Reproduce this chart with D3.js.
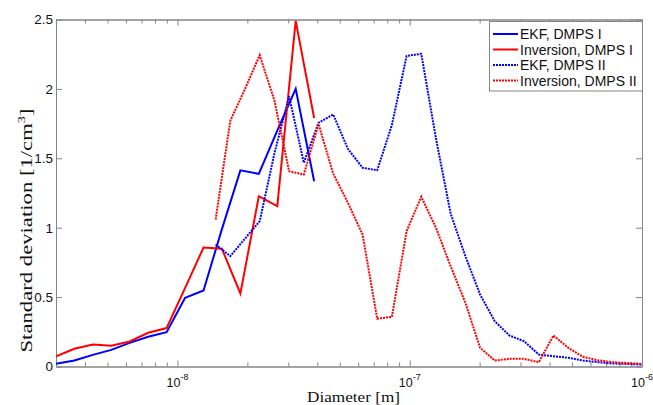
<!DOCTYPE html>
<html>
<head>
<meta charset="utf-8">
<script src="https://cdn.jsdelivr.net/npm/d3@7"></script>
<style>
  html, body { margin: 0; padding: 0; background: #fff; }
  svg { display: block; }
</style>
</head>
<body>
<svg id="chart" width="653" height="405"></svg>
<script>
// ---- Data ----
const dmps1Diameter = [3.0e-9, 3.60e-9, 4.32e-9, 5.19e-9, 6.23e-9, 7.48e-9, 8.98e-9, 1.079e-8, 1.295e-8, 1.554e-8, 1.866e-8, 2.240e-8, 2.690e-8, 3.229e-8, 3.877e-8];
const ekfDmps1 = [0.019, 0.043, 0.084, 0.12, 0.17, 0.214, 0.247, 0.495, 0.548, 0.99, 1.413, 1.388, 1.70, 2.0, 1.335];
const invDmps1 = [0.074, 0.128, 0.158, 0.149, 0.18, 0.243, 0.277, 0.566, 0.857, 0.848, 0.526, 1.227, 1.155, 2.49, 1.79];

const dmps2Diameter = [1.460e-8, 1.689e-8, 1.954e-8, 2.260e-8, 2.615e-8, 3.025e-8, 3.499e-8, 4.048e-8, 4.682e-8, 5.416e-8, 6.265e-8, 7.244e-8, 8.380e-8, 9.694e-8, 1.121e-7, 1.297e-7, 1.500e-7, 1.736e-7, 2.008e-7, 2.323e-7, 2.687e-7, 3.108e-7, 3.595e-7, 4.159e-7, 4.811e-7, 5.565e-7, 6.437e-7, 7.446e-7, 8.613e-7, 9.963e-7];
const ekfDmps2 = [0.879, 0.795, 0.922, 1.047, 1.535, 1.947, 1.468, 1.756, 1.816, 1.568, 1.432, 1.414, 1.74, 2.237, 2.253, 1.643, 1.102, 0.795, 0.519, 0.326, 0.223, 0.182, 0.086, 0.074, 0.063, 0.043, 0.031, 0.022, 0.018, 0.014];
const invDmps2 = [1.059, 1.772, 2.0, 2.243, 1.916, 1.407, 1.383, 1.747, 1.39, 1.18, 0.951, 0.344, 0.358, 0.975, 1.223, 0.999, 0.723, 0.459, 0.135, 0.043, 0.055, 0.055, 0.031, 0.223, 0.135, 0.07, 0.045, 0.031, 0.025, 0.019];

const seriesNames = ["EKF, DMPS I", "Inversion, DMPS I", "EKF, DMPS II", "Inversion, DMPS II"];
const xDomain = [3e-9, 1e-6];
const xMajorTicks = [1e-8, 1e-7, 1e-6];
const xMajorExponents = ["-8", "-7", "-6"];
const yTicks = [0, 0.5, 1, 1.5, 2, 2.5];
const yTickLabels = ["0", "0.5", "1", "1.5", "2", "2.5"];

// ---- Layout ----
const L = 56, R = 642, T = 19.5, B = 366.5;
const axisColor = "#858585";
const textColor = "#111";
const svg = d3.select("#chart");

const x = d3.scaleLog().domain(xDomain).range([L, R]);
const y = d3.scaleLinear().domain([0, 2.5]).range([B, T]);

const allXTicks = x.ticks().filter(v => v >= xDomain[0] && v <= xDomain[1]);
const minorXTicks = allXTicks.filter(v => !xMajorTicks.some(m => Math.abs(m - v) / m < 1e-6));

function styleAxis(g) {
  g.selectAll("path.domain").attr("stroke", axisColor).attr("stroke-width", 1);
  g.selectAll(".tick line").attr("stroke", axisColor).attr("stroke-width", 1);
}

// Bottom axis
svg.append("g").attr("transform", `translate(0,${B})`)
  .call(d3.axisBottom(x).tickValues(minorXTicks).tickSizeInner(-4).tickSizeOuter(0).tickFormat(""))
  .call(styleAxis);
svg.append("g").attr("transform", `translate(0,${B})`)
  .call(d3.axisBottom(x).tickValues(xMajorTicks).tickSizeInner(-6).tickSizeOuter(0).tickFormat(""))
  .call(styleAxis);
// Top axis
svg.append("g").attr("transform", `translate(0,${T})`)
  .call(d3.axisTop(x).tickValues(minorXTicks).tickSizeInner(-4).tickSizeOuter(0).tickFormat(""))
  .call(styleAxis);
svg.append("g").attr("transform", `translate(0,${T})`)
  .call(d3.axisTop(x).tickValues(xMajorTicks).tickSizeInner(-6).tickSizeOuter(0).tickFormat(""))
  .call(styleAxis);
// Left axis
const leftAxis = svg.append("g").attr("transform", `translate(${L},0)`)
  .call(d3.axisLeft(y).tickValues(yTicks).tickSizeInner(-6).tickSizeOuter(0).tickPadding(3)
        .tickFormat((d, i) => yTickLabels[i]))
  .call(styleAxis);
leftAxis.selectAll("text")
  .attr("font-family", "'Liberation Sans', Arial, sans-serif")
  .attr("font-size", "13.5px").attr("fill", textColor);
// Right axis
svg.append("g").attr("transform", `translate(${R},0)`)
  .call(d3.axisRight(y).tickValues(yTicks).tickSizeInner(-6).tickSizeOuter(0).tickFormat(""))
  .call(styleAxis);

// X major tick labels: 10^n
xMajorTicks.forEach((v, i) => {
  const t = svg.append("text")
    .attr("x", x(v)).attr("y", 387)
    .attr("text-anchor", "middle")
    .attr("font-family", "'Liberation Sans', Arial, sans-serif")
    .attr("font-size", "12.5px").attr("fill", textColor);
  t.append("tspan").text("10");
  t.append("tspan").attr("dy", -7).attr("font-size", "9px").text(xMajorExponents[i]);
});

// Axis titles
svg.append("text")
  .attr("x", 353.5).attr("y", 402)
  .attr("text-anchor", "middle")
  .attr("font-family", "'Liberation Serif', 'Times New Roman', serif")
  .attr("font-size", "15px").attr("fill", textColor)
  .attr("textLength", 93).attr("lengthAdjust", "spacingAndGlyphs")
  .text("Diameter [m]");

const yl = svg.append("text")
  .attr("transform", "translate(32,230.5) rotate(-90)")
  .attr("text-anchor", "middle")
  .attr("font-family", "'Liberation Serif', 'Times New Roman', serif")
  .attr("font-size", "17.5px").attr("fill", textColor)
  .attr("textLength", 244).attr("lengthAdjust", "spacingAndGlyphs");
yl.append("tspan").text("Standard deviation [1/cm");
yl.append("tspan").attr("dy", -7).attr("font-size", "11px").text("3");
yl.append("tspan").attr("dy", 7).text("]");

// ---- Lines ----
svg.append("clipPath").attr("id", "plotclip")
  .append("rect").attr("x", L).attr("y", T - 2).attr("width", R - L).attr("height", B - T + 2);

const line = d3.line().x(d => x(d[0])).y(d => y(d[1]));
const series = [
  { name: seriesNames[0], xs: dmps1Diameter, ys: ekfDmps1, color: "#0000ff", dash: null },
  { name: seriesNames[1], xs: dmps1Diameter, ys: invDmps1, color: "#ff0000", dash: null },
  { name: seriesNames[2], xs: dmps2Diameter, ys: ekfDmps2, color: "#0000ff", dash: "2,1" },
  { name: seriesNames[3], xs: dmps2Diameter, ys: invDmps2, color: "#ff0000", dash: "2,1" }
];

const plot = svg.append("g").attr("clip-path", "url(#plotclip)");
series.forEach(s => {
  plot.append("path")
    .datum(s.xs.map((d, i) => [d, s.ys[i]]))
    .attr("d", line)
    .attr("fill", "none")
    .attr("stroke", s.color)
    .attr("stroke-width", 2)
    .attr("stroke-linejoin", "miter")
    .attr("stroke-dasharray", s.dash);
});

// ---- Legend ----
const lg = svg.append("g");
lg.append("rect")
  .attr("x", 489.5).attr("y", 21.5).attr("width", 153).attr("height", 69.5)
  .attr("fill", "#fff").attr("stroke", axisColor).attr("stroke-width", 1);
const rowY = [34, 49.5, 65, 80.5];
series.forEach((s, i) => {
  lg.append("line")
    .attr("x1", 493).attr("x2", 518).attr("y1", rowY[i]).attr("y2", rowY[i])
    .attr("stroke", s.color).attr("stroke-width", 2)
    .attr("stroke-dasharray", s.dash);
  lg.append("text")
    .attr("x", 520).attr("y", rowY[i] + 5)
    .attr("font-family", "'Liberation Sans', Arial, sans-serif")
    .attr("font-size", "14px").attr("fill", textColor)
    .text(s.name);
});
</script>
</body>
</html>
